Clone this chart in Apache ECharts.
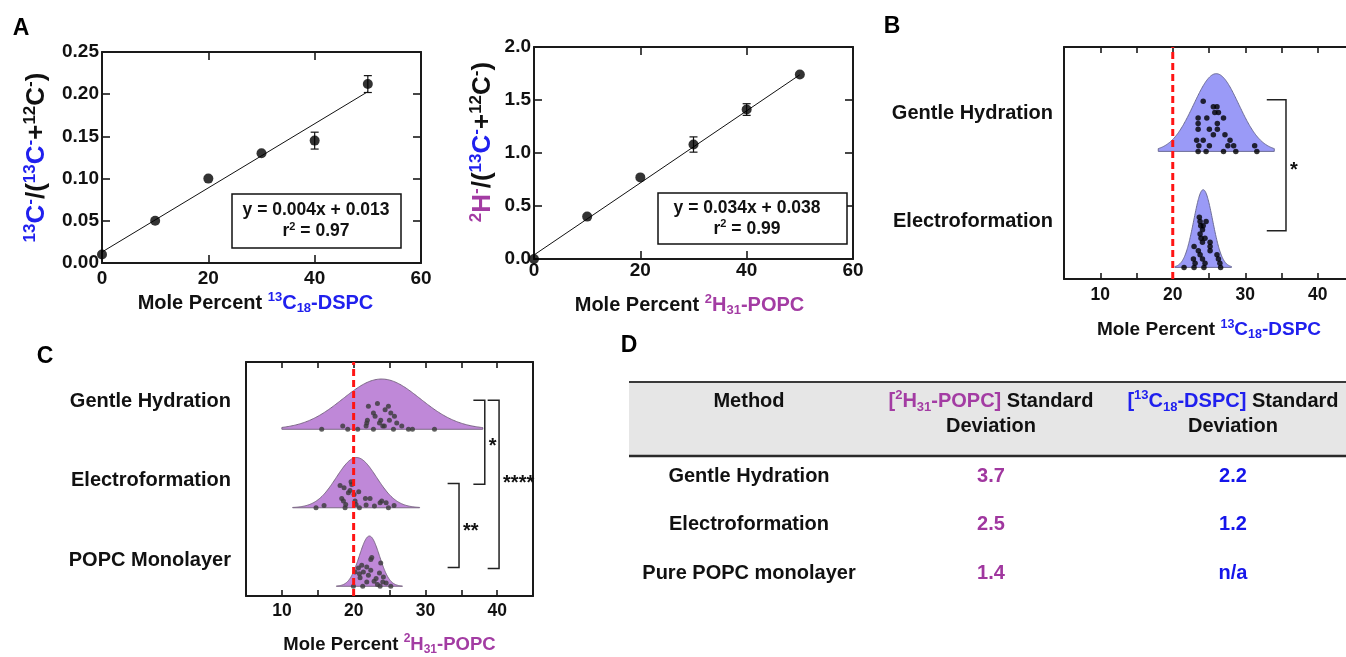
<!DOCTYPE html>
<html>
<head>
<meta charset="utf-8">
<script src="https://cdn.jsdelivr.net/npm/echarts@6/dist/echarts.min.js"></script>
<style>
  html, body { margin: 0; padding: 0; background: #fff; }
  #chart { width: 1346px; height: 657px; }
</style>
</head>
<body>
<div id="chart"></div>
<script>
// ---- Calibration curves (panel A) ----
const dspcPercent = [0, 10, 20, 30, 40, 50];
const dspcRatio = [0.010, 0.050, 0.100, 0.130, 0.145, 0.212];
const dspcErr = [0, 0, 0, 0, 0.010, 0.010];
const dspcFitSlope = 0.0038;
const dspcFitIntercept = 0.013;
const dspcFitR2 = 0.97;

const popcPercent = [0, 10, 20, 30, 40, 50];
const popcRatio = [0.00, 0.40, 0.77, 1.08, 1.41, 1.74];
const popcErr = [0, 0, 0, 0.072, 0.055, 0];
const popcFitSlope = 0.034;
const popcFitIntercept = 0.038;
const popcFitR2 = 0.99;

// ---- Vesicle composition distributions ----
const nominalPercent = 20;

// 13C18-DSPC rows, bottom to top
const dspcMethods = ['Electroformation', 'Gentle Hydration'];
const dspcCurveMean = [24.2, 26.0];
const dspcCurveSd = [1.3, 3.1];
const dspcCurveLo = [20.3, 18.0];
const dspcCurveHi = [28.1, 34.0];
// [mole percent, height of the dot above its row baseline]
const dspcDotsElectro = [
  [21.56, 0], [22.94, 0], [24.3, 0], [26.6, 0],
  [23.08, .036], [24.45, .036], [26.5, .036],
  [22.85, .072], [24.1, .072], [26.3, .072],
  [23.77, .108], [26.1, .108],
  [23.53, .144], [25.15, .144],
  [22.94, .18], [25.15, .18],
  [24.1, .216], [25.15, .216],
  [23.9, .252], [24.45, .252],
  [23.77, .288], [24.1, .324],
  [23.86, .36], [24.2, .36],
  [23.77, .396], [24.6, .396],
  [23.67, .432]
];
const dspcDotsGentle = [
  [23.5, 0], [24.6, 0], [27.0, 0], [28.7, 0], [31.6, 0],
  [23.6, .048], [25.05, .048], [27.6, .048], [28.4, .048], [31.3, .048],
  [23.3, .096], [24.2, .096], [27.9, .096],
  [25.6, .144], [27.2, .144],
  [23.5, .192], [25.05, .192], [26.15, .192],
  [23.5, .24], [26.15, .24],
  [23.5, .288], [24.7, .288], [27.0, .288],
  [25.8, .336], [26.3, .336],
  [25.6, .384], [26.1, .384],
  [24.2, .432]
];
const dspcBrackets = [[32.97, 35.62, 1.446, 0.316, 0.879]];
const dspcBracketText = ['*'];

// 2H31-POPC rows, bottom to top
const popcMethods = ['POPC Monolayer', 'Electroformation', 'Gentle Hydration'];
const popcCurveMean = [22.2, 20.4, 23.9];
const popcCurveSd = [1.4, 2.8, 5.4];
const popcCurveLo = [17.6, 11.5, 10.0];
const popcCurveHi = [26.8, 29.2, 38.0];
const popcDotsMono = [
  [19.97, 0], [21.27, 0], [23.69, 0], [25.18, 0], [23.32, .021],
  [24.53, .042], [21.83, .055], [24.06, .055], [22.85, .064],
  [23.13, .098], [20.9, .11], [24.15, .119], [22.06, .14],
  [20.81, .161], [23.6, .17], [20.2, .183], [21.36, .183],
  [22.39, .204], [20.67, .234], [21.83, .246], [21.13, .268],
  [23.78, .297], [22.39, .34], [22.53, .365]
];
const popcDotsElectro = [
  [14.76, 0], [18.81, 0], [20.81, 0], [24.85, 0], [22.9, .021],
  [15.88, .03], [25.64, .03], [21.74, .034], [18.9, .042], [20.34, .042],
  [23.69, .064], [24.53, .064], [18.58, .085], [20.2, .085], [23.92, .085],
  [18.34, .119], [21.64, .119], [22.29, .119],
  [20.06, .17], [19.27, .191], [20.71, .204], [19.5, .221],
  [18.67, .255], [18.11, .285], [19.74, .297], [19.64, .331]
];
const popcDotsGentle = [
  [15.55, 0], [19.18, 0], [20.57, 0], [22.76, 0], [25.55, 0], [27.64, 0], [28.2, 0], [31.27, 0],
  [18.48, .042], [21.74, .042], [24.06, .042], [24.29, .042], [26.71, .042],
  [21.83, .081], [23.6, .081], [26.01, .081],
  [21.92, .115], [23.78, .115], [24.99, .115],
  [22.99, .166], [25.69, .166],
  [22.76, .208], [25.18, .208],
  [24.39, .25],
  [22.06, .293], [24.85, .293],
  [23.32, .327]
];
const popcBrackets = [
  [36.69, 38.28, 2.369, 1.299, 1.847],
  [38.68, 40.27, 2.369, 0.225, 1.376],
  [33.10, 34.69, 1.308, 0.238, 0.764]
];
const popcBracketText = ['*', '****', '**'];

// ---- Standard deviation table ----
const tableMethods = ['Gentle Hydration', 'Electroformation', 'Pure POPC monolayer'];
const tablePopcSd = [3.7, 2.5, 1.4];
const tableDspcSd = [2.2, 1.2, null];

// ---- Styling ----
const FONT = '"Liberation Sans", Arial, Helvetica, sans-serif';
const INK = '#111111';
const BLUE = '#2020ee';
const PURPLE = '#a33ca3';
const FRAME = '#1a1a1a';

function richSet(size, supSize, lineHeight) {
  const mk = (color, fs, va) => {
    const o = { fontFamily: FONT, fontWeight: 'bold', fontSize: fs, color: color, fill: color };
    if (va) o.verticalAlign = va; else o.lineHeight = lineHeight;
    return o;
  };
  return {
    k: mk(INK, size), ksup: mk(INK, supSize, 'top'),
    b: mk(BLUE, size), bsup: mk(BLUE, supSize, 'top'), bsub: mk(BLUE, supSize, 'bottom'),
    p: mk(PURPLE, size), psup: mk(PURPLE, supSize, 'top'), psub: mk(PURPLE, supSize, 'bottom')
  };
}

const dspcName = '{k|Mole Percent }{bsup|13}{b|C}{bsub|18}{b|-DSPC}';
const popcName = '{k|Mole Percent }{psup|2}{p|H}{psub|31}{p|-POPC}';
const dspcRatioName = '{bsup|13}{b|C}{bsup|-}{k|/(}{bsup|13}{b|C}{bsup|-}{k|+}{ksup|12}{k|C}{ksup|-}{k|)}';
const popcRatioName = '{psup|2}{p|H}{psup|-}{k|/(}{bsup|13}{b|C}{bsup|-}{k|+}{ksup|12}{k|C}{ksup|-}{k|)}';

const axisLine = { show: true, onZero: false, lineStyle: { color: FRAME, width: 2 } };
function tick(len) {
  return { show: true, inside: true, length: len, lineStyle: { color: FRAME, width: 1.6 } };
}
function valueAxis(extra) {
  return Object.assign({
    type: 'value', axisLine: axisLine, splitLine: { show: false }, nameMoveOverlap: false
  }, extra);
}
function tickLabel(size, margin, formatter) {
  const o = { margin: margin, fontSize: size, fontWeight: 'bold', color: INK, fontFamily: FONT };
  if (formatter) o.formatter = formatter;
  return o;
}
const noLabel = { show: false };

// ---- Series builders ----
function pointSeries(axis, xs, ys) {
  return {
    type: 'scatter', xAxisIndex: axis, yAxisIndex: axis, symbolSize: 10,
    itemStyle: { color: '#000' }, z: 4,
    data: xs.map((x, i) => [x, ys[i]])
  };
}
function errorSeries(axis, xs, ys, errs) {
  return {
    type: 'custom', xAxisIndex: axis, yAxisIndex: axis, z: 3,
    encode: { x: 0, y: 1 },
    data: xs.map((x, i) => [x, ys[i], errs[i]]),
    renderItem(params, api) {
      const x = api.value(0), y = api.value(1), e = api.value(2);
      if (!e) return { type: 'group', children: [] };
      const hi = api.coord([x, y + e]), lo = api.coord([x, y - e]);
      const cw = 4, st = { stroke: '#111', lineWidth: 1.2 };
      return {
        type: 'group', children: [
          { type: 'line', shape: { x1: hi[0], y1: hi[1], x2: lo[0], y2: lo[1] }, style: st },
          { type: 'line', shape: { x1: hi[0] - cw, y1: hi[1], x2: hi[0] + cw, y2: hi[1] }, style: st },
          { type: 'line', shape: { x1: lo[0] - cw, y1: lo[1], x2: lo[0] + cw, y2: lo[1] }, style: st }
        ]
      };
    }
  };
}
function fitSeries(axis, xs, slope, intercept) {
  const x0 = Math.min(...xs), x1 = Math.max(...xs);
  return {
    type: 'line', xAxisIndex: axis, yAxisIndex: axis, showSymbol: false, symbol: 'none',
    lineStyle: { color: '#111', width: 1 }, z: 2, silent: true,
    data: [[x0, slope * x0 + intercept], [x1, slope * x1 + intercept]]
  };
}
function ridgeSeries(axis, means, sds, los, his, peak, fill, stroke) {
  return {
    type: 'custom', xAxisIndex: axis, yAxisIndex: axis, z: 2, silent: true,
    encode: { x: 0, y: 4 },
    data: means.map((m, i) => [m, sds[i], los[i], his[i], i]),
    renderItem(params, api) {
      const m = api.value(0), s = api.value(1), lo = api.value(2), hi = api.value(3), base = api.value(4);
      const pts = [];
      const n = 160;
      for (let k = 0; k <= n; k++) {
        const x = lo + (hi - lo) * k / n;
        pts.push(api.coord([x, base + peak * Math.exp(-0.5 * Math.pow((x - m) / s, 2))]));
      }
      pts.push(api.coord([hi, base]));
      pts.push(api.coord([lo, base]));
      return { type: 'polygon', shape: { points: pts }, style: { fill: fill, stroke: stroke, lineWidth: 1 } };
    }
  };
}
function dotSeries(axis, rows, size, color) {
  const data = [];
  rows.forEach((dots, row) => dots.forEach(d => data.push([d[0], row + d[1]])));
  return {
    type: 'scatter', xAxisIndex: axis, yAxisIndex: axis, symbolSize: size, z: 3,
    itemStyle: { color: color }, silent: true, data: data
  };
}
function nominalSeries(axis, yMin, yMax) {
  return {
    type: 'line', xAxisIndex: axis, yAxisIndex: axis, symbol: 'none', showSymbol: false, z: 6, silent: true,
    lineStyle: { color: '#ff1414', width: 3, type: [7, 4] },
    data: [[nominalPercent, yMin], [nominalPercent, yMax]]
  };
}
function bracketSeries(axis, brackets, texts) {
  return {
    type: 'custom', xAxisIndex: axis, yAxisIndex: axis, z: 5, silent: true,
    encode: { x: 1, y: 2 },
    data: brackets,
    renderItem(params, api) {
      const x0 = api.value(0), x1 = api.value(1), yt = api.value(2), yb = api.value(3), ly = api.value(4);
      const pts = [api.coord([x0, yt]), api.coord([x1, yt]), api.coord([x1, yb]), api.coord([x0, yb])];
      const lp = api.coord([x1, ly]);
      return {
        type: 'group', children: [
          { type: 'polyline', shape: { points: pts }, style: { stroke: '#222', lineWidth: 1.5, fill: null } },
          { type: 'text', style: {
              text: texts[params.dataIndex], x: lp[0] + 4, y: lp[1] + 5,
              align: 'left', textAlign: 'left', verticalAlign: 'middle', textVerticalAlign: 'middle',
              fontSize: 20, fontWeight: 'bold', fontFamily: FONT, fill: INK } }
        ]
      };
    }
  };
}

// ---- Ridge panel row labels ----
const dspcLabelPos = [0.40, 1.33];
const popcLabelPos = [0.33, 1.35, 2.36];
function rowLabel(names, positions) {
  return v => {
    const i = positions.findIndex(p => Math.abs(p - v) < 1e-6);
    return i < 0 ? '' : names[i];
  };
}
const decadeOnly = v => (v % 10 === 0 ? String(v) : '');

const B_RANGE = [-0.1, 1.9];
const C_RANGE = [-0.124, 2.857];

// ---- Graphic overlays: panel letters, fit equations, table ----
function letter(t, x, y) {
  return { type: 'text', z: 10, style: {
    text: t, x: x, y: y, align: 'center', textAlign: 'center', verticalAlign: 'middle', textVerticalAlign: 'middle',
    fontSize: 23, fontWeight: 'bold', fontFamily: FONT, fill: '#000' } };
}
const eqRich = {
  t: { fontSize: 17.5, fontWeight: 'bold', fontFamily: FONT, fill: INK, color: INK, lineHeight: 21 },
  s: { fontSize: 11, fontWeight: 'bold', fontFamily: FONT, fill: INK, color: INK, verticalAlign: 'top' }
};
function equationBox(x, y, w, h, cx, slope, intercept, r2) {
  const txt = '{t|y = ' + slope.toFixed(3) + 'x + ' + intercept.toFixed(3) + '}\n{t|r}{s|2}{t| = ' + r2.toFixed(2) + '}';
  return [
    { type: 'rect', z: 10, shape: { x: x, y: y, width: w, height: h },
      style: { fill: '#fff', stroke: '#111', lineWidth: 1.5 } },
    { type: 'text', z: 11, style: {
      text: txt, rich: eqRich, x: cx, y: y + h / 2,
      align: 'center', textAlign: 'center', verticalAlign: 'middle', textVerticalAlign: 'middle' } }
  ];
}

const tRich = richSet(20, 13, 25);
const tableLeft = 629, tableRight = 1346, tableTop = 382, headerBottom = 456;
const colX = [749, 991, 1233];
const rowY = [476, 524, 573];
function cell(text, x, y, color) {
  return { type: 'text', z: 10, style: {
    text: text, x: x, y: y, align: 'center', textAlign: 'center', verticalAlign: 'middle', textVerticalAlign: 'middle',
    fontSize: 20, fontWeight: 'bold', fontFamily: FONT, fill: color } };
}
function richCell(text, x, y) {
  return { type: 'text', z: 10, style: {
    text: text, rich: tRich, x: x, y: y, align: 'center', textAlign: 'center', verticalAlign: 'top', textVerticalAlign: 'top' } };
}
const tableGraphics = [
  { type: 'rect', z: 9, shape: { x: tableLeft, y: tableTop, width: tableRight - tableLeft, height: headerBottom - tableTop },
    style: { fill: '#e6e6e6' } },
  { type: 'line', z: 10, shape: { x1: tableLeft, y1: tableTop, x2: tableRight, y2: tableTop },
    style: { stroke: '#3a3a3a', lineWidth: 2 } },
  { type: 'line', z: 10, shape: { x1: tableLeft, y1: headerBottom, x2: tableRight, y2: headerBottom },
    style: { stroke: '#2a2a2a', lineWidth: 2.5 } },
  richCell('{k|Method}', colX[0], 388.5),
  richCell('{p|[}{psup|2}{p|H}{psub|31}{p|-POPC]}{k| Standard}\n{k|Deviation}', colX[1], 388.5),
  richCell('{b|[}{bsup|13}{b|C}{bsub|18}{b|-DSPC]}{k| Standard}\n{k|Deviation}', colX[2], 388.5)
];
tableMethods.forEach((m, i) => {
  tableGraphics.push(cell(m, colX[0], rowY[i], INK));
  tableGraphics.push(cell(tablePopcSd[i].toFixed(1), colX[1], rowY[i], '#a0379f'));
  tableGraphics.push(cell(tableDspcSd[i] == null ? 'n/a' : tableDspcSd[i].toFixed(1), colX[2], rowY[i], '#1515ea'));
});

const option = {
  animation: false,
  backgroundColor: '#ffffff',
  textStyle: { fontFamily: FONT },
  grid: [
    { left: 102, top: 52, width: 319, height: 211, outerBoundsMode: 'none' },
    { left: 534, top: 47, width: 319, height: 212, outerBoundsMode: 'none' },
    { left: 1064, top: 47, width: 290, height: 232, outerBoundsMode: 'none' },
    { left: 246, top: 362, width: 287, height: 234, outerBoundsMode: 'none' }
  ],
  xAxis: [
    valueAxis({ gridIndex: 0, position: 'bottom', min: 0, max: 60, interval: 20, axisTick: tick(8),
      axisLabel: tickLabel(19, 6),
      name: dspcName, nameLocation: 'middle', nameGap: 28,
      nameTextStyle: { rich: richSet(20, 13, 24), padding: [0, 12, 0, 0] } }),
    valueAxis({ gridIndex: 0, position: 'top', min: 0, max: 60, interval: 20, axisTick: tick(8), axisLabel: noLabel }),
    valueAxis({ gridIndex: 1, position: 'bottom', min: 0, max: 60, interval: 20, axisTick: tick(8),
      axisLabel: tickLabel(19, 2),
      name: popcName, nameLocation: 'middle', nameGap: 34,
      nameTextStyle: { rich: richSet(20, 13, 24), padding: [0, 8, 0, 0] } }),
    valueAxis({ gridIndex: 1, position: 'top', min: 0, max: 60, interval: 20, axisTick: tick(8), axisLabel: noLabel }),
    valueAxis({ gridIndex: 2, position: 'bottom', min: 5, max: 45, interval: 5, axisTick: tick(6),
      axisLabel: tickLabel(17.5, 7, decadeOnly),
      name: dspcName, nameLocation: 'middle', nameGap: 39,
      nameTextStyle: { rich: richSet(19, 12.5, 23) } }),
    valueAxis({ gridIndex: 2, position: 'top', min: 5, max: 45, interval: 5, axisTick: tick(6), axisLabel: noLabel }),
    valueAxis({ gridIndex: 3, position: 'bottom', min: 5, max: 45, interval: 5, axisTick: tick(6),
      axisLabel: tickLabel(17.5, 6, decadeOnly),
      name: popcName, nameLocation: 'middle', nameGap: 37,
      nameTextStyle: { rich: richSet(18.5, 12, 23) } }),
    valueAxis({ gridIndex: 3, position: 'top', min: 5, max: 45, interval: 5, axisTick: tick(6), axisLabel: noLabel })
  ],
  yAxis: [
    valueAxis({ gridIndex: 0, position: 'left', min: 0, max: 0.25, interval: 0.05, axisTick: tick(8),
      axisLabel: tickLabel(19, 3, v => v.toFixed(2)),
      name: dspcRatioName, nameLocation: 'middle', nameGap: 50, nameRotate: 90,
      nameTextStyle: { rich: richSet(26, 17, 30) } }),
    valueAxis({ gridIndex: 0, position: 'right', min: 0, max: 0.25, interval: 0.05, axisTick: tick(8), axisLabel: noLabel }),
    valueAxis({ gridIndex: 1, position: 'left', min: 0, max: 2, interval: 0.5, axisTick: tick(8),
      axisLabel: tickLabel(19, 3, v => v.toFixed(1)),
      name: popcRatioName, nameLocation: 'middle', nameGap: 36, nameRotate: 90,
      nameTextStyle: { rich: richSet(26, 17, 30), padding: [0, 0, 0, 22] } }),
    valueAxis({ gridIndex: 1, position: 'right', min: 0, max: 2, interval: 0.5, axisTick: tick(8), axisLabel: noLabel }),
    valueAxis({ gridIndex: 2, position: 'left', min: B_RANGE[0], max: B_RANGE[1], axisTick: { show: false },
      axisLabel: Object.assign(tickLabel(20, 11, rowLabel(dspcMethods, dspcLabelPos)), { customValues: dspcLabelPos }) }),
    valueAxis({ gridIndex: 2, position: 'right', min: B_RANGE[0], max: B_RANGE[1], axisTick: { show: false }, axisLabel: noLabel }),
    valueAxis({ gridIndex: 3, position: 'left', min: C_RANGE[0], max: C_RANGE[1], axisTick: { show: false },
      axisLabel: Object.assign(tickLabel(20, 15, rowLabel(popcMethods, popcLabelPos)), { customValues: popcLabelPos }) }),
    valueAxis({ gridIndex: 3, position: 'right', min: C_RANGE[0], max: C_RANGE[1], axisTick: { show: false }, axisLabel: noLabel })
  ],
  series: [
    fitSeries(0, dspcPercent, dspcFitSlope, dspcFitIntercept),
    errorSeries(0, dspcPercent, dspcRatio, dspcErr),
    pointSeries(0, dspcPercent, dspcRatio),
    fitSeries(2, popcPercent, popcFitSlope, popcFitIntercept),
    errorSeries(2, popcPercent, popcRatio, popcErr),
    pointSeries(2, popcPercent, popcRatio),

    ridgeSeries(4, dspcCurveMean, dspcCurveSd, dspcCurveLo, dspcCurveHi, 0.67, '#9a9af7', '#6d6d96'),
    dotSeries(4, [dspcDotsElectro, dspcDotsGentle], 5.5, '#000000'),
    nominalSeries(4, B_RANGE[0], B_RANGE[1]),
    bracketSeries(4, dspcBrackets, dspcBracketText),

    ridgeSeries(6, popcCurveMean, popcCurveSd, popcCurveLo, popcCurveHi, 0.64, '#bf88d8', '#7c6886'),
    dotSeries(6, [popcDotsMono, popcDotsElectro, popcDotsGentle], 5, '#3a3a3a'),
    nominalSeries(6, C_RANGE[0], C_RANGE[1]),
    bracketSeries(6, popcBrackets, popcBracketText)
  ],
  graphic: [
    letter('A', 21, 29), letter('B', 892, 27), letter('C', 45, 357), letter('D', 629, 346)
  ].concat(
    equationBox(232, 194, 169, 54, 316, dspcFitSlope, dspcFitIntercept, dspcFitR2),
    equationBox(658, 193, 189, 51, 747, popcFitSlope, popcFitIntercept, popcFitR2),
    tableGraphics
  )
};

const chart = echarts.init(document.getElementById('chart'), null, { renderer: 'canvas' });
chart.setOption(option);
</script>
</body>
</html>
